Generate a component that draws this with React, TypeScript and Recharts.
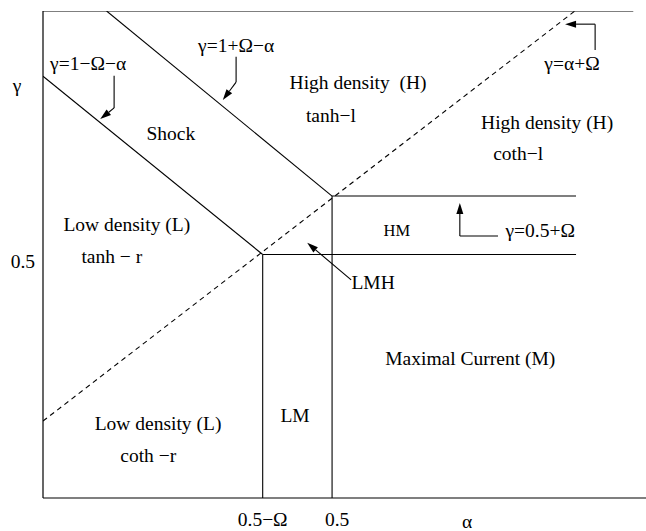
import { LineChart, Line, XAxis, YAxis, ReferenceLine, ReferenceDot, Label } from 'recharts';

const FONT = '"Liberation Serif", "Times New Roman", serif';

// axis ticks
const alphaTicks = [0.38, 0.5];
const alphaTickLabels = ['0.5−Ω', '0.5'];
const gammaTicks = [0.5];
const gammaTickLabels = ['0.5'];

// phase boundaries (α values, γ values)
const shockLowA = [0, 0.38];
const shockLowG = [0.866, 0.5];
const shockHighA = [0.11, 0.5];
const shockHighG = [1, 0.62];
const diagA = [0, 0.92];
const diagG = [0.158, 1];
const lmLeftA = [0.38, 0.38];
const lmLeftG = [0, 0.5];
const lmRightA = [0.5, 0.5];
const lmRightG = [0, 0.62];
const mLowA = [0.38, 0.922];
const mLowG = [0.5, 0.5];
const mHighA = [0.5, 0.922];
const mHighG = [0.62, 0.62];
const topA = [0, 1.021];
const topG = [1, 1];

// pointer arrows (last point is the tip)
const ptrShockLowA = [0.123, 0.123, 0.099];
const ptrShockLowG = [0.867, 0.801, 0.778];
const ptrShockHighA = [0.334, 0.334, 0.311];
const ptrShockHighG = [0.906, 0.854, 0.817];
const ptrDiagA = [0.955, 0.955, 0.903];
const ptrDiagG = [0.92, 0.973, 0.973];
const ptrHMA = [0.787, 0.721, 0.721];
const ptrHMG = [0.538, 0.538, 0.606];
const ptrLMHA = [0.533, 0.457];
const ptrLMHG = [0.448, 0.524];

// region / curve labels
const noteText = [
  'γ=1−Ω−α', 'γ=1+Ω−α', 'Shock', 'High density  (H)', 'tanh−l', 'γ=α+Ω',
  'High density (H)', 'coth−l', 'Low density (L)', 'tanh − r', 'HM', 'γ=0.5+Ω',
  'LMH', 'Maximal Current (M)', 'Low density (L)', 'coth −r', 'LM',
];
const noteA = [0.078, 0.334, 0.221, 0.545, 0.498, 0.915, 0.872, 0.822, 0.145, 0.119, 0.612, 0.86, 0.571, 0.739, 0.199, 0.182, 0.436];
const noteG = [0.893, 0.93, 0.749, 0.854, 0.786, 0.893, 0.772, 0.708, 0.563, 0.497, 0.55, 0.55, 0.444, 0.287, 0.154, 0.088, 0.17];

const pts = (a: number[], g: number[]) => a.map((x, i) => ({ a: x, g: g[i] }));

const boundaries = [
  { id: 'shockLow', data: pts(shockLowA, shockLowG), dashed: false },
  { id: 'shockHigh', data: pts(shockHighA, shockHighG), dashed: false },
  { id: 'diag', data: pts(diagA, diagG), dashed: true },
  { id: 'lmLeft', data: pts(lmLeftA, lmLeftG), dashed: false },
  { id: 'lmRight', data: pts(lmRightA, lmRightG), dashed: false },
  { id: 'mLow', data: pts(mLowA, mLowG), dashed: false },
  { id: 'mHigh', data: pts(mHighA, mHighG), dashed: false },
  { id: 'top', data: pts(topA, topG), dashed: false },
];

const pointers = [
  pts(ptrShockLowA, ptrShockLowG),
  pts(ptrShockHighA, ptrShockHighG),
  pts(ptrDiagA, ptrDiagG),
  pts(ptrHMA, ptrHMG),
  pts(ptrLMHA, ptrLMHG),
];

function arrowShape(p: any, withHead: boolean) {
  const { x1, y1, x2, y2 } = p;
  if (!withHead) {
    return <line x1={x1} y1={y1} x2={x2} y2={y2} stroke="#000" strokeWidth={1.1} />;
  }
  const ang = Math.atan2(y2 - y1, x2 - x1);
  const len = 11;
  const half = 3.5;
  const bx = x2 - len * Math.cos(ang);
  const by = y2 - len * Math.sin(ang);
  const nx = -Math.sin(ang) * half;
  const ny = Math.cos(ang) * half;
  return (
    <g>
      <line x1={x1} y1={y1} x2={bx} y2={by} stroke="#000" strokeWidth={1.1} />
      <polygon points={`${x2},${y2} ${bx + nx},${by + ny} ${bx - nx},${by - ny}`} fill="#000" />
    </g>
  );
}

const AlphaTick = (p: any) => {
  const i = alphaTicks.indexOf(p.payload.value);
  // the "0.5" label sits a little right of its line in the original
  const dx = alphaTickLabels[i] === '0.5' ? 5 : 0;
  return (
    <text x={p.x + dx} y={p.y + 21} dy="0.35em" textAnchor="middle" fontFamily={FONT} fontSize={19.5} fill="#000">
      {alphaTickLabels[i]}
    </text>
  );
};

const GammaTick = (p: any) => {
  const i = gammaTicks.indexOf(p.payload.value);
  return (
    <text x={p.x - 8} y={p.y + 7} dy="0.35em" textAnchor="end" fontFamily={FONT} fontSize={19.5} fill="#000">
      {gammaTickLabels[i]}
    </text>
  );
};

export default function App() {
  return (
    <div style={{ position: 'absolute', left: 0, top: 0, background: '#fff' }}>
      <LineChart width={646} height={531} margin={{ top: 11, right: 0, bottom: 0, left: 0 }}>
        <XAxis
          type="number"
          dataKey="a"
          domain={[0, 1.043]}
          ticks={alphaTicks}
          interval={0}
          height={33}
          tickSize={0}
          tickMargin={0}
          tickLine={false}
          axisLine={{ stroke: '#000', strokeWidth: 1.2 }}
          tick={<AlphaTick />}
          allowDataOverflow
        >
          <Label
            content={(p: any) => (
              <text x={p.viewBox.x + 424} y={p.viewBox.y + 30} textAnchor="middle" fontFamily={FONT} fontSize={19.5} fill="#000">
                α
              </text>
            )}
          />
        </XAxis>
        <YAxis
          type="number"
          domain={[0, 1]}
          ticks={gammaTicks}
          interval={0}
          width={43}
          tickSize={0}
          tickMargin={0}
          tickLine={false}
          axisLine={{ stroke: '#000', strokeWidth: 1.2 }}
          tick={<GammaTick />}
          allowDataOverflow
        >
          <Label
            content={(p: any) => (
              <text x={17} y={p.viewBox.y + 74} dy="0.35em" textAnchor="middle" fontFamily={FONT} fontSize={19.5} fill="#000">
                γ
              </text>
            )}
          />
        </YAxis>

        {boundaries.map((b) => (
          <Line
            key={b.id}
            data={b.data}
            dataKey="g"
            type="linear"
            stroke="#000"
            strokeWidth={1.1}
            strokeDasharray={b.dashed ? '5 4' : undefined}
            dot={false}
            activeDot={false}
            isAnimationActive={false}
          />
        ))}

        {pointers.map((ptr, k) =>
          ptr.slice(1).map((q, j) => (
            <ReferenceLine
              key={`ptr-${k}-${j}`}
              segment={[{ x: ptr[j].a, y: ptr[j].g }, { x: q.a, y: q.g }]}
              ifOverflow="visible"
              shape={(p: any) => arrowShape(p, j === ptr.length - 2)}
            />
          )),
        )}

        {noteText.map((t, i) => (
          <ReferenceDot
            key={`note-${i}`}
            x={noteA[i]}
            y={noteG[i]}
            r={1}
            ifOverflow="visible"
            shape={(p: any) => (
              <text
                x={p.cx}
                y={p.cy}
                dy="0.35em"
                textAnchor="middle"
                fontFamily={FONT}
                fontSize={t === 'HM' ? 16.5 : 19.5}
                fill="#000"
                style={{ whiteSpace: 'pre' }}
              >
                {t}
              </text>
            )}
          />
        ))}
      </LineChart>
    </div>
  );
}
